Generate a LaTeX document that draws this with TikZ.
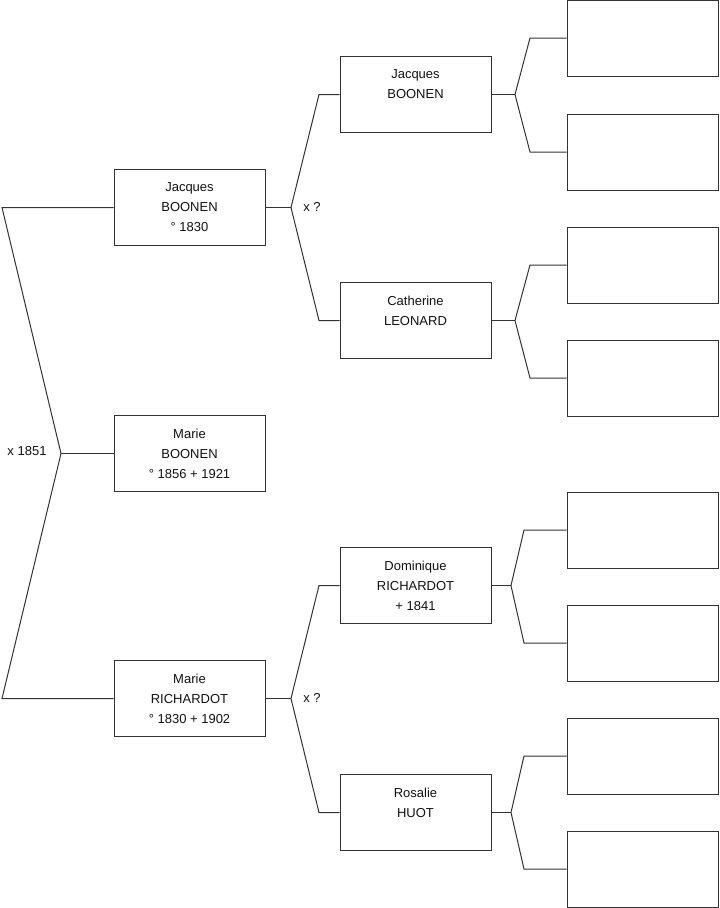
\documentclass[tikz,border=0pt]{standalone}
\usepackage{fontspec}
\setmainfont{Liberation Sans}
\usepackage{xcolor}
\definecolor{cLine}{HTML}{333333}
\definecolor{cText}{HTML}{111111}
\usepackage{tikz}
\usetikzlibrary{positioning,calc}
\tikzset{
  person-box/.style={draw=cLine,line width=0.75pt,minimum width=113.25pt,
    minimum height=57pt,inner sep=0pt,align=center,text=cText,
    font=\fontsize{9.75}{15}\selectfont},
  blank-box/.style={person-box},
  link/.style={draw=cLine,line width=0.75pt,line join=miter},
  union-label/.style={text=cText,inner sep=0pt,font=\fontsize{9.75}{12}\selectfont},
}

\begin{document}
\begin{tikzpicture}[x=0.75pt,y=-0.75pt]
  \useasboundingbox (0,0) rectangle (719,908);
  % generation 1
  \node[person-box] (jacques-a) at (189.5,207.5) {Jacques\\BOONEN\\° 1830};
  \node[person-box] (marie-b) at (189.5,453.5) {Marie\\BOONEN\\° 1856 + 1921};
  \node[person-box] (marie-r) at (189.5,698.5) {Marie\\RICHARDOT\\° 1830 + 1902};
  % generation 2
  \node[person-box] (jacques-b) at (415.5,94.5) {Jacques\\BOONEN\\~};
  \node[person-box] (catherine) at (415.5,320.5) {Catherine\\LEONARD\\~};
  \node[person-box] (dominique) at (415.5,585.5) {Dominique\\RICHARDOT\\+ 1841};
  \node[person-box] (rosalie) at (415.5,812.5) {Rosalie\\HUOT\\~};
  % generation 3 (empty)
  \foreach \i/\y in {1/38,2/152,3/265,4/378,5/530,6/643,7/756,8/869}
    \node[blank-box] (anc-\i) at (642.5,\y) {};
  % branch points
  \coordinate (v-root) at (61,453.5);
  \coordinate (v-jacques-a) at (291,207.5);
  \coordinate (v-marie-r) at (291,698.5);
  \coordinate (v-jacques-b) at (515,94.5);
  \coordinate (v-catherine) at (515,320.5);
  \coordinate (v-dominique) at (511,585.5);
  \coordinate (v-rosalie) at (511,812.5);
  \node[union-label] (x-root) at (27,451) {x 1851};
  \node[union-label] (x-jacques) at (312,207) {x ?};
  \node[union-label] (x-marie) at (312,698) {x ?};
  % connectors
  \draw[link] (jacques-a.west) -- (2,207.5) -- (v-root) -- (2,698.5) -- (marie-r.west);
  \draw[link] (v-root) -- (marie-b.west);
  \draw[link] (jacques-a.east) -- (v-jacques-a);
  \draw[link] (jacques-b.west) -- (319,94.5) -- (v-jacques-a) -- (319,320.5) -- (catherine.west);
  \draw[link] (marie-r.east) -- (v-marie-r);
  \draw[link] (dominique.west) -- (319,585.5) -- (v-marie-r) -- (319,812.5) -- (rosalie.west);
  \draw[link] (jacques-b.east) -- (v-jacques-b);
  \draw[link] (anc-1.west) -- (530,38) -- (v-jacques-b) -- (530,152) -- (anc-2.west);
  \draw[link] (catherine.east) -- (v-catherine);
  \draw[link] (anc-3.west) -- (530,265) -- (v-catherine) -- (530,378) -- (anc-4.west);
  \draw[link] (dominique.east) -- (v-dominique);
  \draw[link] (anc-5.west) -- (524,530) -- (v-dominique) -- (524,643) -- (anc-6.west);
  \draw[link] (rosalie.east) -- (v-rosalie);
  \draw[link] (anc-7.west) -- (524,756) -- (v-rosalie) -- (524,869) -- (anc-8.west);
\end{tikzpicture}
\end{document}
